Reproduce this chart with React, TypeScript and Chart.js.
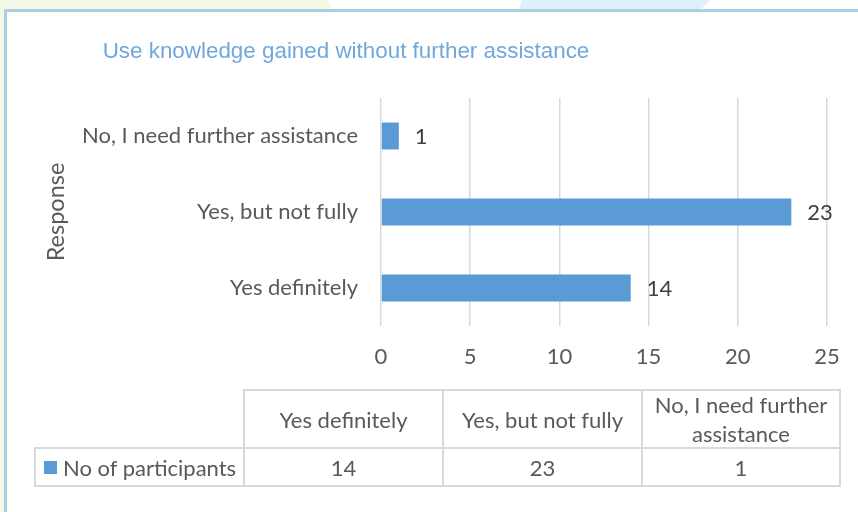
import React, { useEffect, useRef } from "react";
import { Chart, registerables } from "chart.js";

Chart.register(...registerables);

// ---- data ----
const chartTitle = "Use knowledge gained without further assistance";
const axisTitle = "Response";
const seriesName = "No of participants";
const categories = ["Yes definitely", "Yes, but not fully", "No, I need further assistance"];
const participants = [14, 23, 1];
const xMin = 0;
const xMax = 25;
const xStep = 5;

// ---- styles ----
const FONT = "Lato, 'Open Sans', sans-serif";
const TEXT = "#595959";
const BAR = "#5b9bd5";
const GRID = "#d9d9d9";
const FS = 22;

const valueLabels = {
  id: "valueLabels",
  afterDatasetsDraw(chart: any) {
    const ctx = chart.ctx;
    const meta = chart.getDatasetMeta(0);
    const data = chart.data.datasets[0].data;
    ctx.save();
    ctx.font = `${FS}px ${FONT}`;
    ctx.fillStyle = "#404040";
    ctx.textAlign = "left";
    ctx.textBaseline = "middle";
    meta.data.forEach((bar: any, i: number) => {
      ctx.fillText(String(data[i]), bar.x + 16, bar.y + 1);
    });
    ctx.restore();
  },
};

function ChartCanvas() {
  const ref = useRef<HTMLCanvasElement | null>(null);
  useEffect(() => {
    if (!ref.current) return;
    const chart = new Chart(ref.current, {
      type: "bar",
      data: {
        labels: categories,
        datasets: [
          {
            label: seriesName,
            data: participants,
            backgroundColor: BAR,
            borderWidth: 0,
            categoryPercentage: 1,
            barPercentage: 0.355,
          },
        ],
      },
      options: {
        responsive: false,
        animation: false,
        indexAxis: "y",
        layout: { padding: { left: 40, top: 98, right: 31, bottom: 140 } },
        plugins: {
          legend: { display: false },
          tooltip: { enabled: false },
          title: { display: false },
        },
        scales: {
          x: {
            min: xMin,
            max: xMax,
            ticks: {
              stepSize: xStep,
              color: TEXT,
              font: { family: FONT, size: FS },
              padding: 18,
            },
            grid: { color: GRID, lineWidth: 1.5, drawTicks: false },
            border: { display: false },
            afterFit: (s: any) => {
              s.height = 46;
            },
          },
          y: {
            reverse: true,
            grid: { display: false, drawTicks: false },
            border: { display: false },
            ticks: {
              color: TEXT,
              font: { family: FONT, size: FS },
              padding: 23,
              autoSkip: false,
            },
            title: {
              display: true,
              text: axisTitle,
              color: TEXT,
              font: { family: FONT, size: 23.5 },
              padding: { top: 2, bottom: 0 },
            },
            afterFit: (s: any) => {
              s.width = 341;
            },
          },
        },
      } as any,
      plugins: [valueLabels],
    });
    return () => chart.destroy();
  }, []);
  return (
    <canvas
      ref={ref}
      width={858}
      height={512}
      style={{ position: "absolute", left: 0, top: 0, width: 858, height: 512 }}
    />
  );
}

const colX = [244, 443, 642, 840];
const legendLeft = 35;
const rowY = [390, 448, 486];

function DataTable() {
  const lines: React.ReactNode[] = [];
  const lineStyle = { position: "absolute" as const, background: GRID };
  // horizontal
  lines.push(<div key="h0" style={{ ...lineStyle, left: colX[0] - 1, top: rowY[0] - 1, width: colX[3] - colX[0] + 2, height: 2 }} />);
  lines.push(<div key="h1" style={{ ...lineStyle, left: legendLeft - 1, top: rowY[1] - 1, width: colX[3] - legendLeft + 2, height: 2 }} />);
  lines.push(<div key="h2" style={{ ...lineStyle, left: legendLeft - 1, top: rowY[2] - 1, width: colX[3] - legendLeft + 2, height: 2 }} />);
  // vertical
  lines.push(<div key="v0" style={{ ...lineStyle, left: legendLeft - 1, top: rowY[1] - 1, width: 2, height: rowY[2] - rowY[1] + 2 }} />);
  colX.forEach((x, i) =>
    lines.push(<div key={"v" + (i + 1)} style={{ ...lineStyle, left: x - 1, top: rowY[0] - 1, width: 2, height: rowY[2] - rowY[0] + 2 }} />)
  );
  const cell = {
    position: "absolute" as const,
    display: "flex",
    alignItems: "center",
    justifyContent: "center",
    textAlign: "center" as const,
    color: TEXT,
    fontFamily: FONT,
    fontSize: FS,
    lineHeight: "29px",
    boxSizing: "border-box" as const,
    padding: "0 6px",
  };
  return (
    <>
      {lines}
      {categories.map((c, i) => (
        <div key={"hd" + i} style={{ ...cell, left: colX[i], top: rowY[0], width: colX[i + 1] - colX[i], height: rowY[1] - rowY[0] }}>
          {c}
        </div>
      ))}
      {participants.map((v, i) => (
        <div key={"vd" + i} style={{ ...cell, left: colX[i], top: rowY[1], width: colX[i + 1] - colX[i], height: rowY[2] - rowY[1] }}>
          {String(v)}
        </div>
      ))}
      <div
        style={{
          position: "absolute",
          left: legendLeft + 9,
          top: rowY[1],
          height: rowY[2] - rowY[1],
          display: "flex",
          alignItems: "center",
          color: TEXT,
          fontFamily: FONT,
          fontSize: FS,
          whiteSpace: "nowrap",
        }}
      >
        <span style={{ display: "inline-block", width: 13, height: 13, background: BAR, marginRight: 6 }} />
        {seriesName}
      </div>
    </>
  );
}

export default function App() {
  return (
    <div
      style={{
        position: "fixed",
        left: 0,
        top: 0,
        width: 858,
        height: 512,
        overflow: "hidden",
        background: "#ffffff",
      }}
    >
      <div style={{ position: "absolute", left: 0, top: 0, width: 858, height: 512, background: "#f5f8e5", clipPath: "polygon(0 0, 328px 0, 336px 20px, 6px 20px, 6px 512px, 0 512px)" }} />
      <div style={{ position: "absolute", left: 0, top: 0, width: 858, height: 20, background: "#e0f0fa", clipPath: "polygon(522px 0, 710px 0, 690px 20px, 514px 20px)" }} />
      <div
        style={{
          position: "absolute",
          left: 4,
          top: 9,
          width: 900,
          height: 600,
          border: "3px solid #acceE2",
          background: "#ffffff",
          boxSizing: "border-box",
        }}
      />
      <ChartCanvas />
      <div
        style={{
          position: "absolute",
          left: 346,
          top: 40,
          transform: "translateX(-50%)",
          whiteSpace: "nowrap",
          fontFamily: "'Liberation Sans', Arial, sans-serif",
          fontSize: 22.4,
          lineHeight: "22px",
          color: "#70a8dc",
        }}
      >
        {chartTitle}
      </div>
      <DataTable />
    </div>
  );
}
